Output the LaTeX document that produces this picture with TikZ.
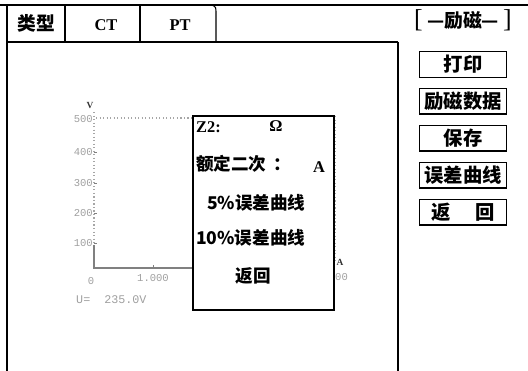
\documentclass[tikz,border=0pt]{standalone}
\usepackage{fontspec}
\setmainfont{Liberation Serif}
\newfontfamily\cjk{Noto Sans CJK SC}
\newfontfamily\lcd{Liberation Mono}
\usetikzlibrary{positioning}

\begin{document}
\begin{tikzpicture}[
    x=0.03cm,
    y=-0.03cm,
    node distance=0.29cm,
    frame/.style={
        draw=black,
        line width=1.3pt
    },
    thinframe/.style={
        draw=black,
        line width=0.9pt
    },
    tabtext/.style={
        font=\bfseries\fontsize{14}{16}\selectfont,
        inner sep=0pt
    },
    cjktext/.style={
        font=\cjk\bfseries\fontsize{15}{17}\selectfont,
        inner sep=0pt
    },
    button/.style={
        rectangle,
        draw=black,
        line width=1.4pt,
        text centered,
        minimum width=2.6cm,
        minimum height=0.77cm,
        inner sep=0pt,
        fill=white,
        font=\cjk\bfseries\fontsize{16.5}{18}\selectfont
    },
    popup/.style={
        rectangle,
        draw=black,
        line width=0.9pt,
        fill=white,
        minimum width=4.23cm,
        minimum height=5.82cm
    },
    dotaxis/.style={
        gray!70,
        dotted,
        line width=1pt
    },
    faint/.style={
        text=gray!75,
        font=\lcd\fontsize{9}{10}\selectfont,
        inner sep=0pt
    },
    marker/.style={
        inner sep=0pt,
        text=black!80,
        font=\bfseries\fontsize{8}{9}\selectfont
    }
  ]

\useasboundingbox (0,0) rectangle (528,371);

% // frame and tabs
\draw [frame] (0,5) -- (528,5);
\draw [frame] (7,5) -- (7,371);
\draw [thinframe] (7,42) -- (398,42);
\draw [thinframe] (398,42) -- (398,371);
\draw [thinframe] (65,5) -- (65,42);
\draw [thinframe] (140,5) -- (140,42);
\draw [thinframe] (212,5) .. controls (216,7) .. (216,14) -- (216,42);

\node [cjktext, font=\cjk\bfseries\fontsize{16}{18}\selectfont] (type) at (36,23) {类型};
\node [tabtext] (ct) at (106,25) {CT};
\node [tabtext] (pt) at (180,25) {PT};

% // side menu
\node [inner sep=0pt] (title) at (463,20)
 {\fontsize{22}{22}\selectfont[\,{\cjk\bfseries\fontsize{16}{18}\selectfont —励磁—}\,]};
\node [button] (print) at (463,64.5) {打印};
\node [button, below=of print] (data) {励磁数据};
\node [button, below=of data] (save) {保存};
\node [button, below=of save] (curve) {误差曲线};
\node [button, below=of curve] (back) {返\hspace{1.3em}回};

% // faded curve in the background
\draw [dotaxis] (94,112) -- (94,266);
\draw [dotaxis] (96,118) -- (193,118);
\draw [dotaxis] (335,116) -- (335,262);
\draw [gray, line width=1pt] (94,245) -- (94,268) -- (193,268);
\foreach \ty in {152,183,213,243}
  \draw [gray] (94,\ty) -- (97,\ty);
\draw [gray] (153,265) -- (153,268);

\foreach \val/\ty in {500/119,400/152,300/183,200/213,100/243}
  \node [faint, anchor=east] (tick\val) at (93,\ty) {\val};
\node [marker] (vmark) at (90,106) {V};
\node [marker] (amark) at (340,262) {A};
\node [faint] (zero) at (91,281) {0};
\node [faint] (one) at (153,278) {1.000};
\node [faint, anchor=west] (two) at (335,277) {00};
\node [faint, anchor=west, font=\lcd\fontsize{10}{11}\selectfont] (volt) at (76,300) {U=\ \ 235.0V};

% // popup menu
\node [popup] (menu) at (263.5,213) {};
\node [tabtext, anchor=west] (z2) at (196,127) {Z2:};
\node [tabtext] (ohm) at (276,126) {Ω};
\node [cjktext, anchor=west] (rated) at (196,164) {额定二次\hspace{0.4em}：};
\node [tabtext] (amp) at (319,167) {A};
\node [cjktext, anchor=west] (five) at (207,203) {5\%误差曲线};
\node [cjktext, anchor=west] (ten) at (196,238) {10\%误差曲线};
\node [cjktext] (ret) at (253,276) {返回};

\end{tikzpicture}
\end{document}
